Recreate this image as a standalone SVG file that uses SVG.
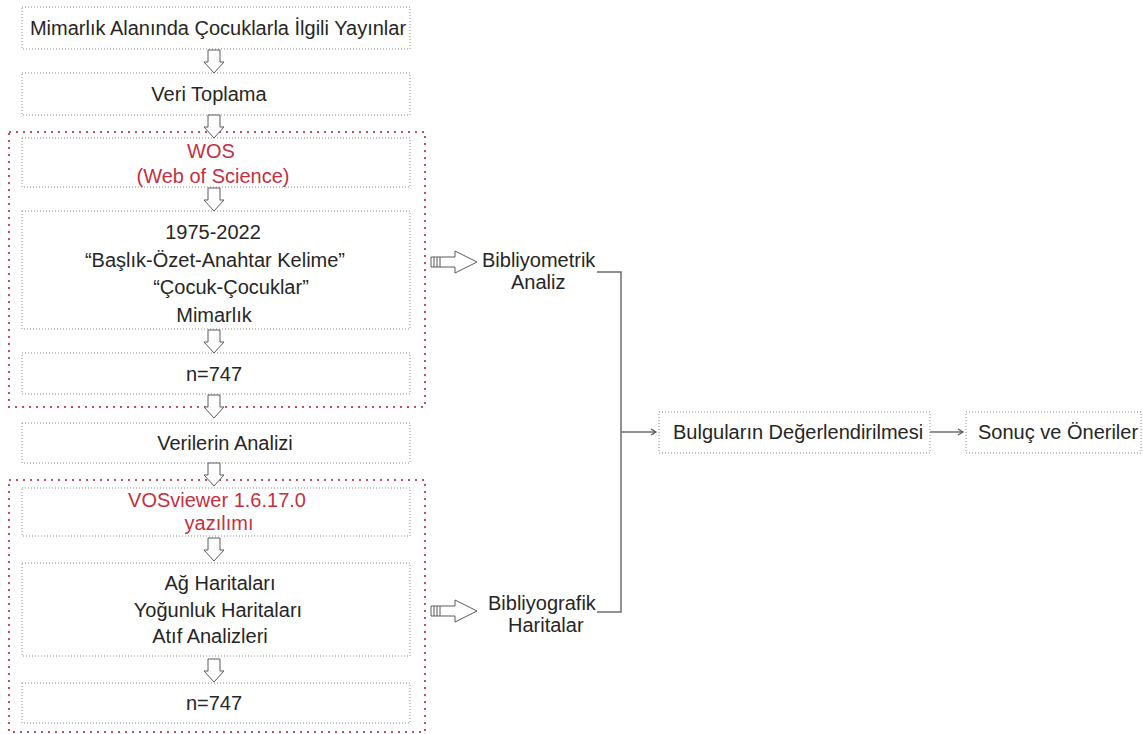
<svg xmlns="http://www.w3.org/2000/svg" width="1143" height="734" viewBox="0 0 1143 734">
<style>
.box{fill:none;stroke:#8a8a8a;stroke-width:1;stroke-dasharray:1 2}
.grp{fill:none;stroke:#c25060;stroke-width:2;stroke-dasharray:2 5}
.t{font-family:"Liberation Sans",Arial,sans-serif;font-size:20px;fill:#262626}
.m{text-anchor:middle}
.r{fill:#c4303f}
.da{fill:#fff;stroke:#5a5a5a;stroke-width:1}
.ln{fill:none;stroke:#6e6e6e;stroke-width:1.5}
</style>
<defs>
<marker id="ah" markerWidth="8" markerHeight="8" refX="6" refY="4" orient="auto" markerUnits="userSpaceOnUse">
<path d="M1,1 L6,4 L1,7" fill="none" stroke="#555" stroke-width="1.2"/>
</marker>
<path id="down" d="M-6,0 H6 V12 H10 L0,23 L-10,12 H-6 Z"/>
</defs>
<rect width="1143" height="734" fill="#fff"/>

<g id="groups">
<rect id="wos-group" class="grp" x="9" y="132" width="416" height="275"/>
<rect id="vos-group" class="grp" x="9" y="480" width="416" height="252"/>
</g>

<g id="n1"><rect class="box" x="22" y="7" width="388" height="42"/><text class="t m" x="218" y="35">Mimarlık Alanında Çocuklarla İlgili Yayınlar</text></g>
<g id="n2"><rect class="box" x="22" y="73" width="388" height="42"/><text class="t m" x="209" y="101">Veri Toplama</text></g>
<g id="n3"><rect class="box" x="22" y="138" width="388" height="49"/><text class="t m r" x="211" y="158">WOS</text><text class="t m r" x="213" y="183">(Web of Science)</text></g>
<g id="n4"><rect class="box" x="22" y="211" width="388" height="118"/>
<text class="t m" x="213" y="239">1975-2022</text>
<text class="t m" x="215" y="267">“Başlık-Özet-Anahtar Kelime”</text>
<text class="t m" x="231" y="294">“Çocuk-Çocuklar”</text>
<text class="t m" x="214" y="322">Mimarlık</text></g>
<g id="n5"><rect class="box" x="22" y="353" width="388" height="41"/><text class="t m" x="214" y="381">n=747</text></g>
<g id="n6"><rect class="box" x="22" y="423" width="388" height="40"/><text class="t m" x="225" y="450">Verilerin Analizi</text></g>
<g id="n7"><rect class="box" x="22" y="488" width="388" height="48"/><text class="t m r" x="217" y="507">VOSviewer 1.6.17.0</text><text class="t m r" x="219" y="530">yazılımı</text></g>
<g id="n8"><rect class="box" x="22" y="563" width="388" height="93"/>
<text class="t m" x="220" y="590">Ağ Haritaları</text>
<text class="t m" x="218" y="617">Yoğunluk Haritaları</text>
<text class="t m" x="210" y="643">Atıf Analizleri</text></g>
<g id="n9"><rect class="box" x="22" y="683" width="388" height="40"/><text class="t m" x="214" y="710">n=747</text></g>
<g id="n10"><text class="t" x="482" y="267">Bibliyometrik</text><text class="t" x="511" y="289">Analiz</text></g>
<g id="n11"><text class="t" x="488" y="610">Bibliyografik</text><text class="t" x="508" y="632">Haritalar</text></g>
<g id="n12"><rect class="box" x="659" y="412" width="271" height="41"/><text class="t" x="673" y="439">Bulguların Değerlendirilmesi</text></g>
<g id="n13"><rect class="box" x="966" y="412" width="175" height="41"/><text class="t" x="978" y="439">Sonuç ve Öneriler</text></g>

<g id="connectors">
<use href="#down" class="da" x="214" y="50"/>
<use href="#down" class="da" x="214" y="115"/>
<use href="#down" class="da" x="214" y="188"/>
<use href="#down" class="da" x="214" y="330"/>
<use href="#down" class="da" x="214" y="395"/>
<use href="#down" class="da" x="214" y="463"/>
<use href="#down" class="da" x="214" y="538"/>
<use href="#down" class="da" x="214" y="659"/>
<path class="da" d="M431,257 H455 V251 L477,262 L455,273 V267 H431 Z"/>
<path d="M434,257 V267 M437,257 V267 M440,257 V267" stroke="#5a5a5a" stroke-width="1"/>
<path class="da" d="M431,606 H455 V600 L477,611 L455,622 V616 H431 Z"/>
<path d="M434,606 V616 M437,606 V616 M440,606 V616" stroke="#5a5a5a" stroke-width="1"/>
<path class="ln" d="M597,272 H621 V612 H597"/>
<path class="ln" d="M621,432 H656" marker-end="url(#ah)"/>
<path class="ln" d="M930,432 H963" marker-end="url(#ah)"/>
</g>
</svg>
